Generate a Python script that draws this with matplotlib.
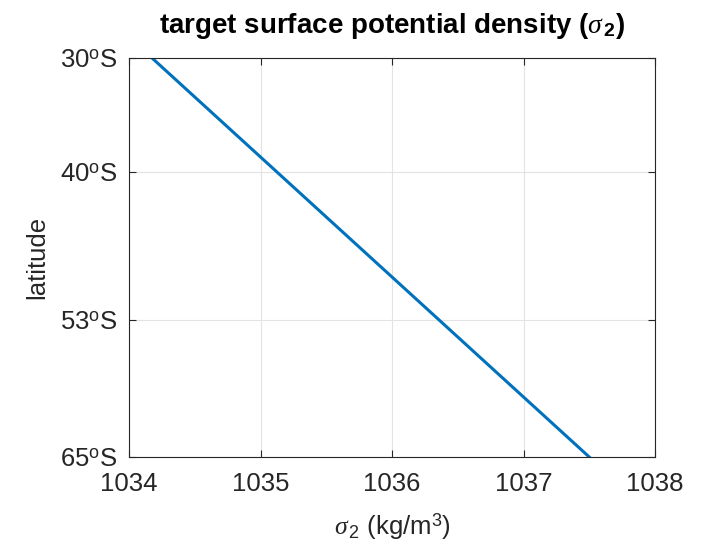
import matplotlib
matplotlib.use("Agg")
import matplotlib.pyplot as plt
import numpy as np

plt.rcParams['font.family'] = ['Liberation Sans', 'DejaVu Sans']
plt.rcParams['mathtext.fontset'] = 'custom'
plt.rcParams['mathtext.rm'] = 'Liberation Sans'
plt.rcParams['mathtext.it'] = 'Liberation Serif:italic'
plt.rcParams['mathtext.bf'] = 'Liberation Sans:bold'

# data
latitude = [-30, -65]
sigma2 = [1034.175, 1037.5]
ytick_vals = [-30, -40, -53, -65]
ytick_labels = [r'30$^{\rm o}$S', r'40$^{\rm o}$S', r'53$^{\rm o}$S', r'65$^{\rm o}$S']
xtick_vals = [1034, 1035, 1036, 1037, 1038]

fig = plt.figure(figsize=(7.08, 5.5), dpi=100)
ax = fig.add_axes([129/708, 1-457/550, (655-129)/708, (457-58)/550])
ax.plot(sigma2, latitude, color='#0072BD', lw=2.2)
ax.set_xlim(1034, 1038)
ax.set_ylim(-65, -30)
ax.set_xticks(xtick_vals)
ax.set_xticklabels([str(v) for v in xtick_vals])
ax.set_yticks(ytick_vals)
ax.set_yticklabels(ytick_labels)
ax.grid(True, color='#e3e3e3', lw=0.8)
ax.set_axisbelow(True)
ax.tick_params(direction='in', length=5, width=0.8, labelsize=18.5, colors='#262626',
               top=True, right=True)
ax.tick_params(axis='x', pad=11)
ax.tick_params(axis='y', pad=8)
for s in ax.spines.values():
    s.set_color('#262626')
    s.set_linewidth(0.8)
ax.set_xlabel(r'$\sigma_{\,2}$ (kg/m$^3$)', fontsize=18.5, color='#262626', labelpad=11)
ax.set_ylabel('latitude', fontsize=18.5, color='#262626', labelpad=8)
ax.set_title(r'target surface potential density ($\sigma_{\,\mathbf{2}}$)', fontsize=20,
             fontweight='bold', pad=18)
fig.savefig('out.png', dpi=100)
